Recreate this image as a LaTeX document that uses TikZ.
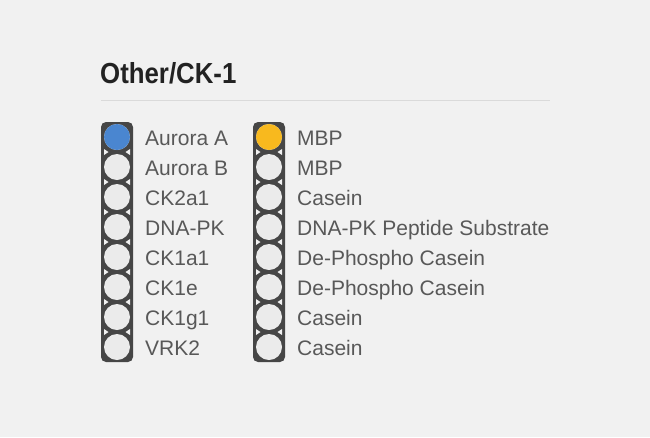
\documentclass[tikz,border=0pt]{standalone}
\usepackage{fontspec}
\setmainfont{Liberation Sans}
\newfontfamily\titlefont[FakeStretch=0.89]{Liberation Sans}
\definecolor{bg}{RGB}{241,241,241}
\definecolor{strip}{RGB}{70,70,70}
\definecolor{dot}{RGB}{235,235,235}
\definecolor{blueA}{RGB}{74,134,208}
\definecolor{yellowA}{RGB}{248,185,30}
\definecolor{lbl}{RGB}{88,88,88}
\definecolor{ttl}{RGB}{34,34,34}
\definecolor{rule}{RGB}{218,218,218}
\tikzset{
  stripbox/.style={fill=strip, rounded corners=5pt},
  dotc/.style={circle, fill=dot, minimum size=26pt, inner sep=0pt},
  notch/.style={fill=bg},
  lab/.style={anchor=base west, inner sep=0pt, text=lbl, font=\fontsize{21}{25}\selectfont},
}
\begin{document}
\begin{tikzpicture}[x=1pt,y=-1pt]
\fill[bg] (0,0) rectangle (650,437);
\useasboundingbox (0,0) rectangle (650,437);
\node[anchor=base west, inner sep=0pt, text=ttl, font=\titlefont\bfseries\fontsize{29}{33}\selectfont] (title) at (100,83) {Other/CK-1};
\draw[rule, line width=1pt] (101,100) -- (550,100);
% strips
\fill[stripbox] (101,122) rectangle (133,362);
\fill[stripbox] (253,122) rectangle (285,362);
\foreach \i in {1,...,7}{
  \pgfmathsetmacro{\yy}{122+30*\i}
  \fill[notch] (104,\yy-3) -- (108.5,\yy) -- (104,\yy+3) -- cycle;
  \fill[notch] (130,\yy-3) -- (125.5,\yy) -- (130,\yy+3) -- cycle;
  \fill[notch] (256,\yy-3) -- (260.5,\yy) -- (256,\yy+3) -- cycle;
  \fill[notch] (282,\yy-3) -- (277.5,\yy) -- (282,\yy+3) -- cycle;
}
\foreach \i in {0,...,7}{
  \node[dotc] (L\i) at (117,137+30*\i) {};
  \node[dotc] (R\i) at (269,137+30*\i) {};
}
\node[dotc, fill=blueA] at (L0) {};
\node[dotc, fill=yellowA] at (R0) {};
\foreach \t [count=\k from 0] in {Aurora A,Aurora B,CK2a1,DNA-PK,CK1a1,CK1e,CK1g1,VRK2}{
  \node[lab] (la\k) at (145,145.5+30*\k) {\t};
}
\foreach \t [count=\k from 0] in {MBP,MBP,Casein,DNA-PK Peptide Substrate,De-Phospho Casein,De-Phospho Casein,Casein,Casein}{
  \node[lab] (ra\k) at (297,145.5+30*\k) {\t};
}
\end{tikzpicture}
\end{document}
